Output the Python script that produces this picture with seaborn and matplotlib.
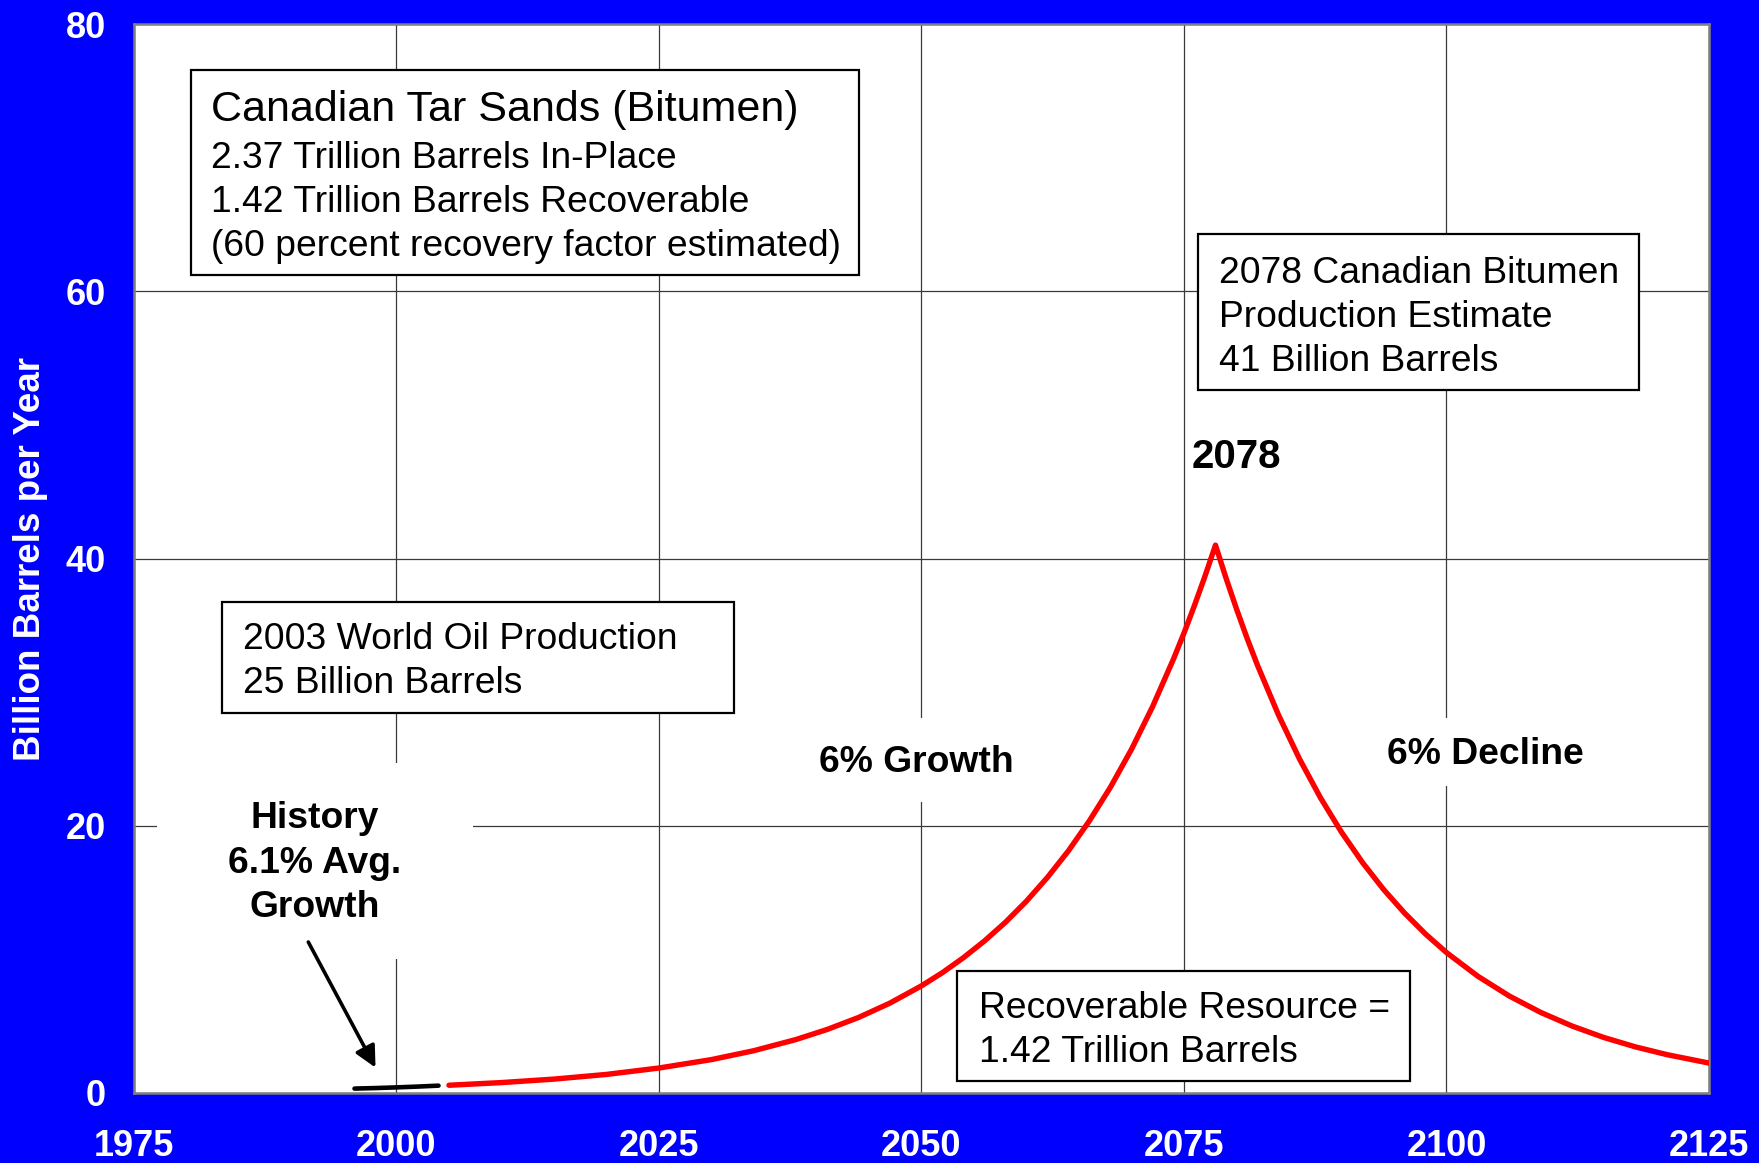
import matplotlib
matplotlib.use("Agg")
import matplotlib.pyplot as plt
from matplotlib.patches import Rectangle
import pandas as pd
import seaborn as sns

# Historical Canadian bitumen production (billion barrels per year)
hist_years = [1996, 1998, 2000, 2002, 2004]
hist_values = [0.33, 0.37, 0.42, 0.48, 0.55]

# Projected production: 6% growth up to the 2078 peak, 6% decline after it
proj_years = [2005, 2010, 2015, 2020, 2025, 2030, 2034, 2038, 2041, 2044,
              2047, 2050, 2052, 2054, 2056, 2058, 2060, 2062, 2064, 2066,
              2068, 2070, 2072, 2074, 2075, 2076, 2077, 2078,
              2079, 2080, 2081, 2082, 2084, 2086, 2088, 2090, 2092, 2094,
              2096, 2098, 2100, 2103, 2106, 2109, 2112, 2115, 2118, 2121,
              2125]
proj_values = [0.58, 0.78, 1.04, 1.39, 1.87, 2.50, 3.16, 3.99, 4.75, 5.65,
               6.73, 8.02, 9.01, 10.13, 11.38, 12.78, 14.36, 16.14, 18.13, 20.38,
               22.89, 25.72, 28.90, 32.48, 34.42, 36.49, 38.68, 41.0,
               38.54, 36.23, 34.05, 32.01, 28.29, 25.00, 22.09, 19.52, 17.25, 15.24,
               13.47, 11.90, 10.51, 8.73, 7.25, 6.02, 5.00, 4.15, 3.45, 2.87,
               2.24]

x_ticks = [1975, 2000, 2025, 2050, 2075, 2100, 2125]
y_ticks = [0, 20, 40, 60, 80]

peak_year = 2078
peak_value = 41

hist_df = pd.DataFrame({"year": hist_years, "value": hist_values})
proj_df = pd.DataFrame({"year": proj_years, "value": proj_values})

sns.set_style("white")
plt.rcParams["font.family"] = ["Liberation Sans", "DejaVu Sans"]
plt.rcParams["text.color"] = "black"

BLUE = "#0000FF"
fig = plt.figure(figsize=(17.59, 11.63), dpi=100, facecolor=BLUE)
ax = fig.add_axes([0.07618, 0.06019, 0.89539, 0.91917])
ax.set_facecolor("white")

sns.lineplot(data=hist_df, x="year", y="value", color="black",
             linewidth=3.3, ax=ax, zorder=5)
sns.lineplot(data=proj_df, x="year", y="value", color="#FF0000",
             linewidth=3.9, ax=ax, zorder=5)
for ln in ax.lines:
    ln.set_solid_capstyle("round")
    ln.set_solid_joinstyle("round")

ax.set_xlim(1975, 2125)
ax.set_ylim(0, 80)
ax.set_xticks(x_ticks)
ax.set_yticks(y_ticks)
ax.grid(True, color="#3a3a3a", linewidth=0.9)
ax.set_axisbelow(True)

for sp in ax.spines.values():
    sp.set_visible(True)
    sp.set_color("#808080")
    sp.set_linewidth(1.8)

ax.tick_params(axis="both", which="major", direction="out", length=8,
               width=1, color="black", labelcolor="white", labelsize=26)
ax.tick_params(axis="y", pad=12)
ax.tick_params(axis="x", pad=18)
for lab in ax.get_xticklabels() + ax.get_yticklabels():
    lab.set_fontweight("bold")

ax.set_xlabel("")
ax.set_ylabel("Billion Barrels per Year", color="white", fontsize=26.5,
              fontweight="bold")
ax.yaxis.set_label_coords(-0.0546, 0.5)

# White patches that clear the grid behind the free-standing labels
for (x0, y0, w, h) in [(1977.2, 10.0, 30.1, 14.7),
                       (2045.6, 21.8, 7.8, 6.3),
                       (2097.6, 23.0, 5.8, 5.1)]:
    ax.add_patch(Rectangle((x0, y0), w, h, facecolor="white",
                           edgecolor="none", zorder=2))

# Framed text boxes
def framed(x0, y0, x1, y1):
    ax.add_patch(Rectangle((x0, y0), x1 - x0, y1 - y0, facecolor="white",
                           edgecolor="black", linewidth=1.6, zorder=3))

LS = 1.34
BODY = 26.8

framed(1980.43, 61.22, 2044.05, 76.55)
ax.text(1982.33, 73.57, "Canadian Tar Sands (Bitumen)", fontsize=31,
        ha="left", va="center", zorder=4)
ax.text(1982.33, 66.65,
        "2.37 Trillion Barrels In-Place\n"
        "1.42 Trillion Barrels Recoverable\n"
        "(60 percent recovery factor estimated)",
        fontsize=BODY, ha="left", va="center", linespacing=LS, zorder=4)

framed(1983.38, 28.44, 2032.14, 36.74)
ax.text(1985.38, 32.27, "2003 World Oil Production\n25 Billion Barrels",
        fontsize=BODY, ha="left", va="center", linespacing=LS, zorder=4)

framed(2076.33, 52.61, 2118.33, 64.28)
ax.text(2078.33, 58.05,
        "2078 Canadian Bitumen\nProduction Estimate\n41 Billion Barrels",
        fontsize=BODY, ha="left", va="center", linespacing=LS, zorder=4)

framed(2053.38, 0.9, 2096.52, 9.13)
ax.text(2055.48, 4.69, "Recoverable Resource =\n1.42 Trillion Barrels",
        fontsize=BODY, ha="left", va="center", linespacing=LS, zorder=4)

# Bold annotations
ax.text(peak_year + 2, peak_value + 6.6, str(peak_year), fontsize=29,
        fontweight="bold", ha="center", va="center", zorder=4)
ax.text(2049.5, 24.75, "6% Growth", fontsize=BODY, fontweight="bold",
        ha="center", va="center", zorder=4)
ax.text(2103.7, 25.35, "6% Decline", fontsize=BODY, fontweight="bold",
        ha="center", va="center", zorder=4)
ax.text(1992.24, 17.2, "History\n6.1% Avg.\nGrowth", fontsize=BODY,
        fontweight="bold", ha="center", va="center", linespacing=LS,
        zorder=4)

ax.annotate("", xy=(1998.0, 1.9), xytext=(1991.6, 11.3),
            arrowprops=dict(arrowstyle="-|>", color="black", lw=2.6,
                            mutation_scale=32, shrinkA=0, shrinkB=0),
            zorder=4)

fig.savefig("out.png", dpi=100, facecolor=fig.get_facecolor())
